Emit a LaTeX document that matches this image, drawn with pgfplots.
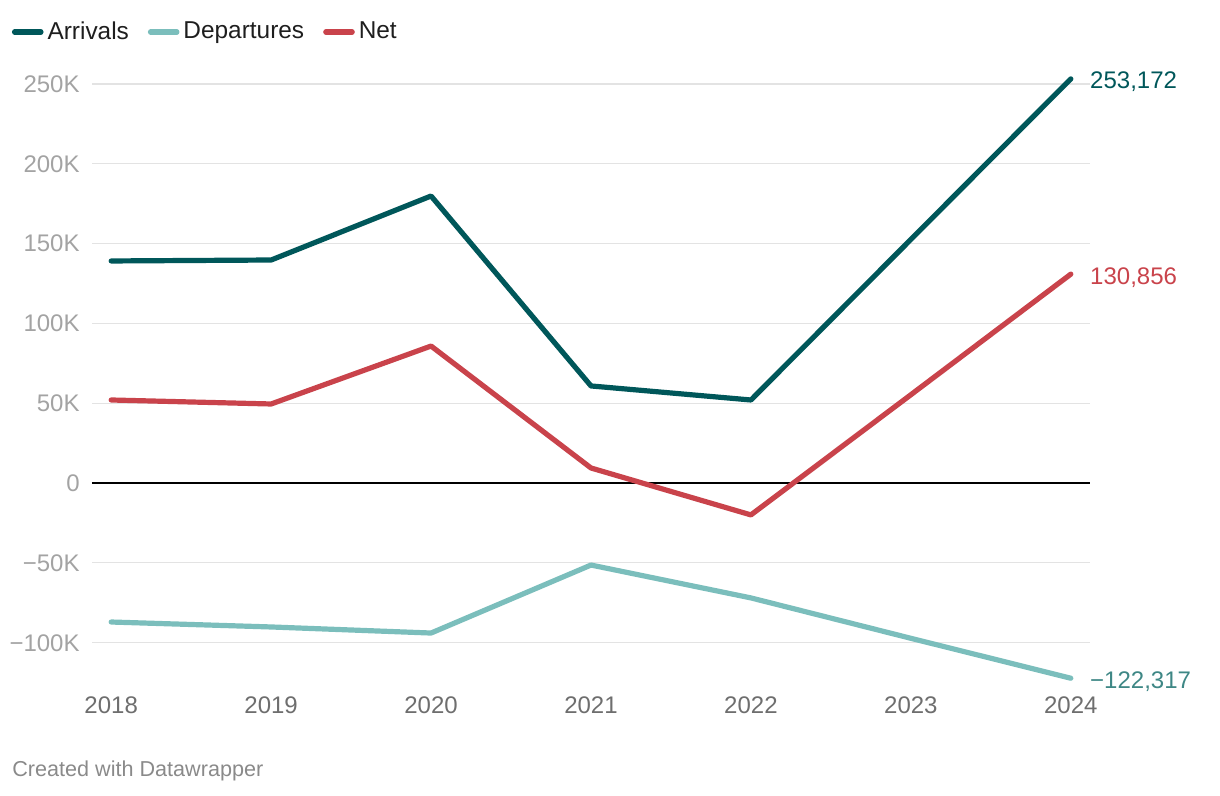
\documentclass[border=0pt]{standalone}
\usepackage{pgfplots}
\pgfplotsset{compat=1.18}
\usepackage{fontspec}
\setmainfont{Liberation Sans}
\definecolor{arr}{HTML}{00575A}
\definecolor{dep}{HTML}{7BBEBC}
\definecolor{net}{HTML}{C9434B}
\definecolor{deptext}{HTML}{3E8785}
\definecolor{gridc}{HTML}{E3E3E3}
\definecolor{ytl}{HTML}{A3A3A3}
\definecolor{xtl}{HTML}{6E6E6E}
\definecolor{foot}{HTML}{8A8A8A}
\definecolor{legt}{HTML}{1E1E1E}
\begin{document}
\begin{tikzpicture}
\useasboundingbox (0,0) rectangle (610pt,398pt);
\begin{axis}[
  at={(46pt,52.75pt)}, anchor=south west,
  scale only axis, width=499pt, height=311.25pt,
  xmin=2017.88, xmax=2024.12,
  ymin=-130000, ymax=260000,
  scaled y ticks=false,
  clip=false,
  axis line style={draw=none},
  major tick length=0pt,
  xtick={2018,2019,2020,2021,2022,2023,2024},
  xticklabels={2018,2019,2020,2021,2022,2023,2024},
  ytick={-100000,-50000,0,50000,100000,150000,200000,250000},
  yticklabels={−100K,−50K,0,50K,100K,150K,200K,250K},
  ymajorgrids, major grid style={gridc, line width=0.6pt},
  tick label style={font=\fontsize{12}{14}\selectfont},
  xticklabel style={text=xtl, anchor=base, inner sep=0pt, yshift=-11.75pt},
  yticklabel style={text=ytl, anchor=base east, inner sep=0pt, xshift=-6pt, yshift=-4.2pt},
  legend columns=3,
  legend style={draw=none, fill=none, inner sep=0pt, outer sep=0pt, anchor=west,
    at={(-0.0802,1.0578)}, font=\fontsize{12.2}{14}\selectfont, text=legt,
    /tikz/every even column/.append style={column sep=7.5pt}},
  legend cell align=left,
  legend image code/.code={\draw[#1, line width=2.6pt, line cap=round] (0.9pt,0pt) -- (14.1pt,0pt);},
  every axis plot/.append style={line width=2.6pt, line join=round, line cap=round},
]
\addplot[black, line width=0.7pt, line cap=butt, forget plot] coordinates {(2017.88,0) (2024.12,0)};
\addplot[arr] coordinates {(2018,139100) (2019,139700) (2020,179800) (2021,60800) (2022,52000) (2023,152600) (2024,253172)};
\addlegendentry{Arrivals}
\addplot[dep] coordinates {(2018,-87100) (2019,-90200) (2020,-94000) (2021,-51400) (2022,-72000) (2023,-97300) (2024,-122317)};
\addlegendentry{Departures}
\addplot[net] coordinates {(2018,52000) (2019,49500) (2020,85800) (2021,9400) (2022,-20000) (2023,55300) (2024,130856)};
\addlegendentry{Net}
\node[anchor=west, inner sep=0pt, text=arr, xshift=9.5pt, yshift=-1.5pt, font=\fontsize{12}{14}\selectfont] at (axis cs:2024,253172) {253,172};
\node[anchor=west, inner sep=0pt, text=net, xshift=9.5pt, yshift=-2pt, font=\fontsize{12}{14}\selectfont] at (axis cs:2024,130856) {130,856};
\node[anchor=west, inner sep=0pt, text=deptext, xshift=9.5pt, yshift=-1.5pt, font=\fontsize{12}{14}\selectfont] at (axis cs:2024,-122317) {−122,317};
\end{axis}
\node[anchor=west, inner sep=0pt, text=foot, font=\fontsize{10.8}{12}\selectfont] at (6pt,12.5pt) {Created with Datawrapper};
\end{tikzpicture}
\end{document}
